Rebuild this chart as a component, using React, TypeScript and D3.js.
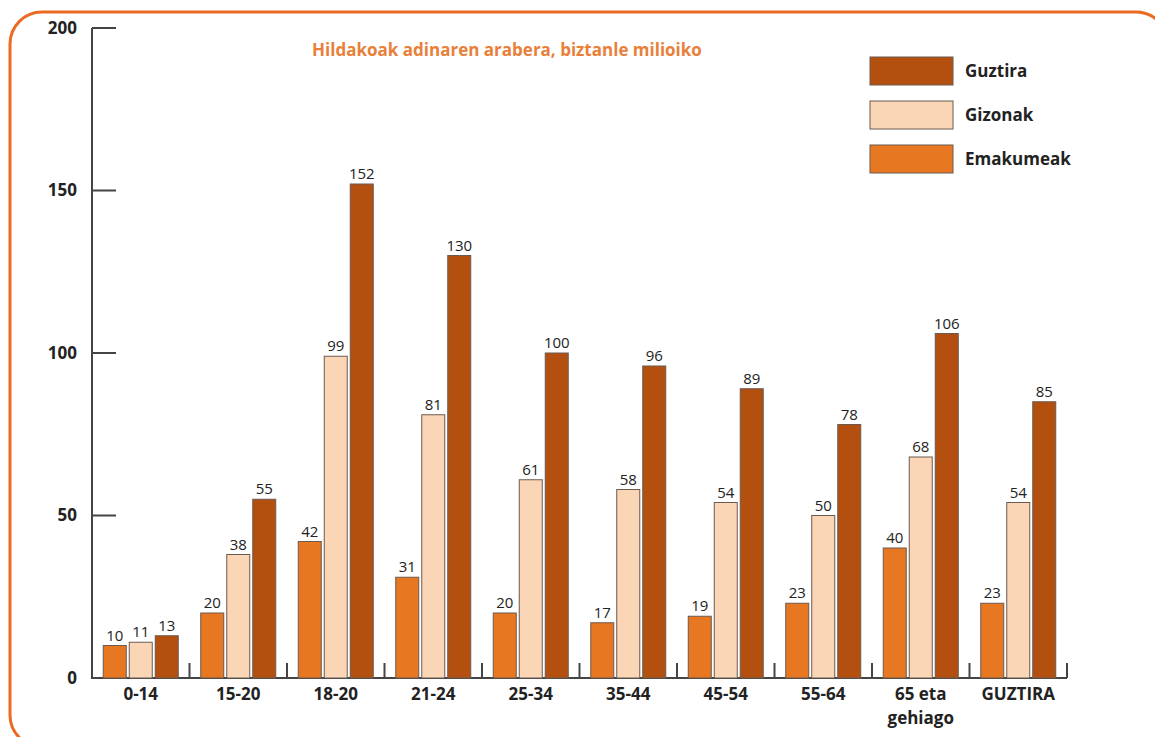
import { useEffect, useRef } from 'react';
import * as d3 from 'd3';

const categories = ['0-14', '15-20', '18-20', '21-24', '25-34', '35-44', '45-54', '55-64', '65 eta\ngehiago', 'GUZTIRA'];
const emakumeak = [10, 20, 42, 31, 20, 17, 19, 23, 40, 23];
const gizonak = [11, 38, 99, 81, 61, 58, 54, 50, 68, 54];
const guztira = [13, 55, 152, 130, 100, 96, 89, 78, 106, 85];
const yTicks = [0, 50, 100, 150, 200];

const series = [
  { name: 'Emakumeak', values: emakumeak, color: '#e87722' },
  { name: 'Gizonak', values: gizonak, color: '#fbd6b6' },
  { name: 'Guztira', values: guztira, color: '#b4500f' },
];

const FONT = '"Open Sans", "Noto Sans", sans-serif';

export default function App() {
  const ref = useRef<SVGSVGElement>(null);

  useEffect(() => {
    if (!ref.current) return;
    const svg = d3.select(ref.current);
    svg.selectAll('*').remove();

    const W = 1155, H = 737;
    const m = { left: 92, right: 88, top: 28, bottom: 59 };
    const innerW = W - m.left - m.right;
    const innerH = H - m.top - m.bottom;

    // orange frame
    svg.append('rect').attr('x', 10).attr('y', 12).attr('width', 1158).attr('height', 735)
      .attr('rx', 32).attr('ry', 32).attr('fill', 'none')
      .attr('stroke', '#ec6b22').attr('stroke-width', 3);

    const g = svg.append('g').attr('transform', `translate(${m.left},${m.top})`);

    const x = d3.scaleBand<number>().domain(d3.range(categories.length)).range([0, innerW]).padding(0);
    const y = d3.scaleLinear().domain([0, 200]).range([innerH, 0]);

    const barW = 23;
    const gap = 3;
    const groupW = barW * 3 + gap * 2;

    // y axis
    g.append('line').attr('x1', 0).attr('x2', 0).attr('y1', y(200)).attr('y2', y(0))
      .attr('stroke', '#444').attr('stroke-width', 2);
    yTicks.forEach(t => {
      if (t > 0) {
        g.append('line').attr('x1', 0).attr('x2', 24).attr('y1', y(t)).attr('y2', y(t))
          .attr('stroke', '#444').attr('stroke-width', 2);
      }
      g.append('text').attr('x', -15).attr('y', y(t)).attr('dy', '0.35em')
        .attr('text-anchor', 'end').attr('font-family', FONT).attr('font-weight', 700)
        .attr('font-size', 17).attr('fill', '#222').text(String(t));
    });

    // x axis
    g.append('line').attr('x1', -1).attr('x2', innerW).attr('y1', y(0)).attr('y2', y(0))
      .attr('stroke', '#444').attr('stroke-width', 2);
    categories.forEach((c, i) => {
      const right = (x(i) ?? 0) + x.bandwidth();
      g.append('line').attr('x1', right).attr('x2', right).attr('y1', y(0)).attr('y2', y(0) - 15)
        .attr('stroke', '#444').attr('stroke-width', 2);
      const cx = (x(i) ?? 0) + x.bandwidth() / 2;
      const lines = c.split('\n');
      const t = g.append('text').attr('x', cx).attr('y', y(0) + 22)
        .attr('text-anchor', 'middle').attr('font-family', FONT).attr('font-weight', 700)
        .attr('font-size', 17).attr('fill', '#222');
      lines.forEach((l, k) => {
        t.append('tspan').attr('x', cx).attr('dy', k === 0 ? 0 : 24).text(l);
      });
    });

    // bars
    series.forEach((s, si) => {
      s.values.forEach((v, i) => {
        const bx = (x(i) ?? 0) + x.bandwidth() / 2 - groupW / 2 + si * (barW + gap);
        g.append('rect').attr('x', bx).attr('y', y(v)).attr('width', barW).attr('height', y(0) - y(v))
          .attr('fill', s.color).attr('stroke', '#6b5a50').attr('stroke-width', 1);
        g.append('text').attr('x', bx + barW / 2).attr('y', y(v) - 5)
          .attr('text-anchor', 'middle').attr('font-family', FONT).attr('font-size', 15)
          .attr('fill', '#222').text(String(v));
      });
    });

    // title
    svg.append('text').attr('x', 507).attr('y', 56).attr('text-anchor', 'middle')
      .attr('font-family', FONT).attr('font-weight', 700).attr('font-size', 17)
      .attr('fill', '#e8803a').text('Hildakoak adinaren arabera, biztanle milioiko');

    // legend
    const legend = [...series].reverse();
    legend.forEach((s, k) => {
      const ly = 57 + k * 44;
      svg.append('rect').attr('x', 870).attr('y', ly).attr('width', 83).attr('height', 28)
        .attr('fill', s.color).attr('stroke', '#6b5a50').attr('stroke-width', 1);
      svg.append('text').attr('x', 965).attr('y', ly + 14).attr('dy', '0.35em')
        .attr('font-family', FONT).attr('font-weight', 700).attr('font-size', 17)
        .attr('fill', '#222').text(s.name);
    });
  }, []);

  return (
    <svg ref={ref} width={1155} height={737}
      style={{ position: 'absolute', left: 0, top: 0, background: '#fff' }} />
  );
}
